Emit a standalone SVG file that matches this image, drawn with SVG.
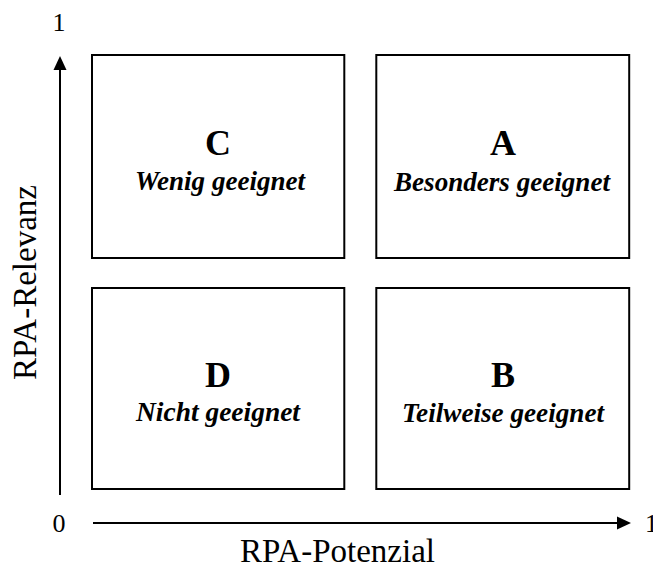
<svg xmlns="http://www.w3.org/2000/svg" width="653" height="570" viewBox="0 0 653 570">
  <defs>
    <style>
      .box { fill: #ffffff; stroke: #000000; stroke-width: 2; }
      .axis { stroke: #000000; stroke-width: 2; fill: none; }
      .head { fill: #000000; stroke: none; }
      text { font-family: "Liberation Serif", "Times New Roman", Times, serif; fill: #000000; }
      .letter { font-size: 36px; font-weight: bold; text-anchor: middle; }
      .caption { font-size: 27px; font-weight: bold; font-style: italic; text-anchor: middle; }
      .tick { font-size: 26px; }
      .axislabel { font-size: 33px; }
    </style>
  </defs>
  <rect width="653" height="570" fill="#ffffff"/>

  <!-- axes -->
  <g id="connectors">
    <line class="axis" x1="60" y1="495" x2="60" y2="68"/>
    <polygon class="head" points="60,56 53.5,70 66.5,70"/>
    <line class="axis" x1="93" y1="523" x2="619" y2="523"/>
    <polygon class="head" points="631,523 617,516.5 617,529.5"/>
  </g>

  <!-- axis ticks and labels -->
  <g id="axis-labels">
    <text class="tick" x="59" y="31" text-anchor="middle">1</text>
    <text class="tick" x="59" y="532" text-anchor="middle">0</text>
    <text class="tick" x="645" y="532">1</text>
    <text class="axislabel" x="240" y="562">RPA-Potenzial</text>
    <text class="axislabel" transform="translate(36,380) rotate(-90)">RPA-Relevanz</text>
  </g>

  <!-- quadrant C -->
  <g id="quadrant-c">
    <rect class="box" x="92" y="55" width="252.3" height="203"/>
    <text class="letter" x="218" y="155">C</text>
    <text class="caption" x="220" y="190" textLength="170" lengthAdjust="spacingAndGlyphs">Wenig geeignet</text>
  </g>

  <!-- quadrant A -->
  <g id="quadrant-a">
    <rect class="box" x="376.3" y="55" width="252.9" height="203"/>
    <text class="letter" x="503" y="155">A</text>
    <text class="caption" x="502" y="191" textLength="216" lengthAdjust="spacingAndGlyphs">Besonders geeignet</text>
  </g>

  <!-- quadrant D -->
  <g id="quadrant-d">
    <rect class="box" x="92" y="288" width="252.3" height="201"/>
    <text class="letter" x="218" y="386.5">D</text>
    <text class="caption" x="218" y="421" textLength="164" lengthAdjust="spacingAndGlyphs">Nicht geeignet</text>
  </g>

  <!-- quadrant B -->
  <g id="quadrant-b">
    <rect class="box" x="376.3" y="288" width="252.9" height="201"/>
    <text class="letter" x="503" y="386.5">B</text>
    <text class="caption" x="503" y="422" textLength="202" lengthAdjust="spacingAndGlyphs">Teilweise geeignet</text>
  </g>
</svg>
